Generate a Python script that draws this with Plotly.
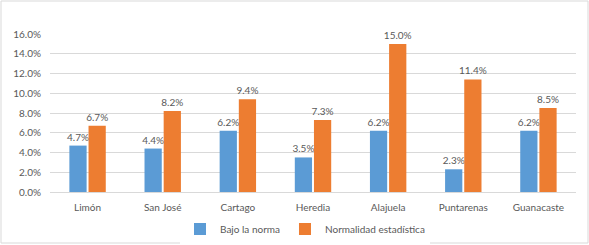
import plotly.graph_objects as go

categories = ["Limón", "San José", "Cartago", "Heredia", "Alajuela", "Puntarenas", "Guanacaste"]
bajo_norma = [4.7, 4.4, 6.2, 3.5, 6.2, 2.3, 6.2]
normalidad = [6.7, 8.2, 9.4, 7.3, 15.0, 11.4, 8.5]
tick_vals = [0, 2, 4, 6, 8, 10, 12, 14, 16]
tick_text = [f"{v:.1f}%" for v in tick_vals]

FONT = "Lato, Open Sans, sans-serif"
TXT = "#595959"

fig = go.Figure()
fig.add_trace(go.Bar(
    name="Bajo la norma", x=categories, y=bajo_norma,
    marker=dict(color="#5B9BD5", line=dict(width=0)),
    text=[f"{v:.1f}%" for v in bajo_norma], textposition="outside",
    constraintext="none",
    textfont=dict(size=10, color=TXT, family=FONT), cliponaxis=False,
))
fig.add_trace(go.Bar(
    name="Normalidad estadística", x=categories, y=normalidad,
    marker=dict(color="#ED7D31", line=dict(width=0)),
    text=[f"{v:.1f}%" for v in normalidad], textposition="outside",
    constraintext="none",
    textfont=dict(size=10, color=TXT, family=FONT), cliponaxis=False,
))

L, R, T, B = 50, 13, 34, 53
W, H = 589, 245
pw, ph = W - L - R, H - T - B

fig.update_layout(
    width=W, height=H,
    margin=dict(l=L, r=R, t=T, b=B, pad=0, autoexpand=False),
    paper_bgcolor="white", plot_bgcolor="white",
    barmode="group", bargap=0.49, bargroupgap=0.1,
    font=dict(family=FONT, size=10, color=TXT),
    showlegend=True,
    legend=dict(orientation="h", x=(305 - L) / pw, xanchor="center",
                y=(H - B - 229) / ph, yanchor="middle",
                font=dict(size=10, color=TXT, family=FONT), itemwidth=30,
                tracegroupgap=0),
    xaxis=dict(showgrid=False, showline=True, linecolor="#D9D9D9", linewidth=1,
               ticks="", tickfont=dict(size=10, color=TXT), ticklabelstandoff=6),
    yaxis=dict(range=[0, 16], tickvals=tick_vals, ticktext=tick_text,
               showgrid=True, gridcolor="#D9D9D9", gridwidth=1,
               zeroline=False, showline=False, ticks="",
               tickfont=dict(size=10, color=TXT), ticklabelstandoff=8),
    shapes=[dict(type="rect", xref="paper", yref="paper",
                 x0=(1 - L) / pw, x1=(588 - L) / pw,
                 y0=(H - B - 243) / ph, y1=(H - B - 1) / ph,
                 line=dict(color="#D9D9D9", width=1), fillcolor="rgba(0,0,0,0)",
                 layer="below")],
)

fig.write_html("out.html", config={"displayModeBar": False},
               post_script="document.body.style.margin='0';document.body.style.overflow='hidden';")
